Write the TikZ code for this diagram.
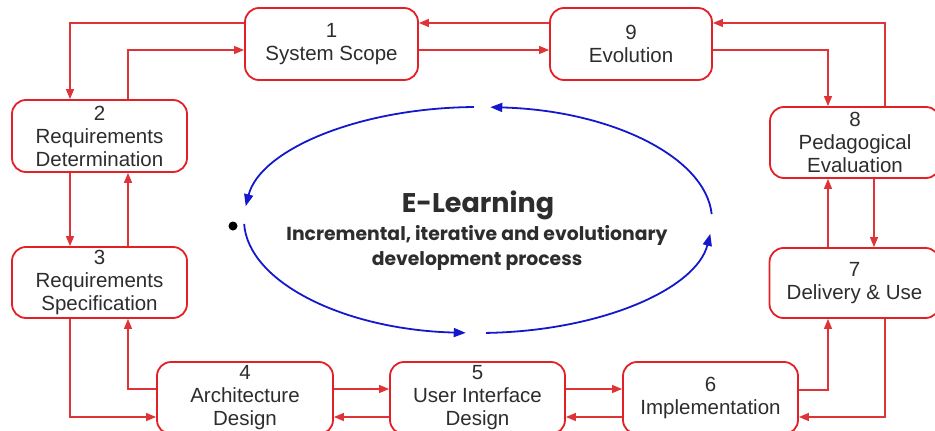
\documentclass[tikz,border=0pt]{standalone}
\usepackage{fontspec}
\setmainfont{Liberation Sans}
\newfontfamily\gothic{Poppins}
\usetikzlibrary{arrows.meta,calc,positioning}
\definecolor{boxred}{RGB}{226,32,38}
\definecolor{linkred}{RGB}{222,52,56}
\definecolor{loopblue}{RGB}{20,24,205}
\definecolor{labelgray}{RGB}{45,45,45}
\tikzset{
    phase/.style={
	anchor=center,
	rectangle,
	rounded corners=14pt,
	draw=boxred,
	line width=1.8pt,
	fill=white,
	minimum height=71pt,
	minimum width=175pt,
	align=center,
	text=labelgray,
	font=\fontsize{20.5}{23}\selectfont,
	inner sep=2pt
    },
    link/.style={
	draw=linkred,
	line width=1.3pt,
	-{Triangle[length=10pt,width=8pt]},
	color=linkred
    },
    cycle/.style={
	draw=loopblue,
	line width=1.8pt,
	-{Triangle[length=12pt,width=9pt]},
	color=loopblue
    },
}

\begin{document}
\begin{tikzpicture}[x=1pt,y=-1pt]
    \useasboundingbox (0,0) rectangle (935,431);

    \node[phase, minimum width=173pt, minimum height=72pt] (SCOPE) at (331.5,44) {1\\System Scope};
    \node[phase, minimum width=162pt, minimum height=72pt] (EVOL) at (631,44) {9\\Evolution};
    \node[phase, minimum height=72pt] (REQDET) at (99.5,136) {2\\Requirements\\Determination};
    \node[phase] (REQSPEC) at (99.5,282.5) {3\\Requirements\\Specification};
    \node[phase, minimum width=170pt] (PEDA) at (855,142.5) {8\\Pedagogical\\Evaluation};
    \node[phase, minimum width=170pt, minimum height=70pt] (DELIV) at (854.5,283) {7\\Delivery \& Use};
    \node[phase, minimum width=176pt, minimum height=72pt] (ARCH) at (245,398) {4\\Architecture\\Design};
    \node[phase, minimum height=72pt] (UI) at (477.5,398) {5\\User Interface\\Design};
    \node[phase, minimum height=72pt] (IMPL) at (710.5,398) {6\\Implementation};

    % top row
    \draw[link] ($(SCOPE.west)+(0,-21)$) -| ($(REQDET.north)+(-29.5,0)$);
    \draw[link] ($(REQDET.north)+(28.5,0)$) |- ($(SCOPE.west)+(0,6)$);
    \draw[link] ($(SCOPE.east)+(0,6)$) -- ($(EVOL.west)+(0,6)$);
    \draw[link] ($(EVOL.west)+(0,-21)$) -- ($(SCOPE.east)+(0,-21)$);
    \draw[link] ($(EVOL.east)+(0,6)$) -| ($(PEDA.north)+(-27,0)$);
    \draw[link] ($(PEDA.north)+(30,0)$) |- ($(EVOL.east)+(0,-21)$);

    % sides
    \draw[link] ($(REQDET.south)+(-29.5,0)$) -- ($(REQSPEC.north)+(-29.5,0)$);
    \draw[link] ($(REQSPEC.north)+(28.5,0)$) -- ($(REQDET.south)+(28.5,0)$);
    \draw[link] ($(PEDA.south)+(19,0)$) -- ($(DELIV.north)+(19.5,0)$);
    \draw[link] ($(DELIV.north)+(-26.5,0)$) -- ($(PEDA.south)+(-27,0)$);

    % bottom row
    \draw[link] ($(REQSPEC.south)+(-29.5,0)$) |- ($(ARCH.west)+(0,19)$);
    \draw[link] ($(ARCH.west)+(0,-9)$) -| ($(REQSPEC.south)+(28.5,0)$);
    \draw[link] ($(ARCH.east)+(0,-9)$) -- ($(UI.west)+(0,-9)$);
    \draw[link] ($(UI.west)+(0,19)$) -- ($(ARCH.east)+(0,19)$);
    \draw[link] ($(UI.east)+(0,-9)$) -- ($(IMPL.west)+(0,-9)$);
    \draw[link] ($(IMPL.west)+(0,19)$) -- ($(UI.east)+(0,19)$);
    \draw[link] ($(IMPL.east)+(0,-8)$) -| ($(DELIV.south)+(-26.5,0)$);
    \draw[link] ($(DELIV.south)+(30.5,0)$) |- ($(IMPL.east)+(0,19)$);

    % centre loop
    \coordinate (CORE) at (478,220);
    \draw[cycle] ($(CORE)+(-3:234 and 113)$) arc[start angle=-3, end angle=-87, x radius=234, y radius=113];
    \draw[cycle] ($(CORE)+(-91:234 and 113)$) arc[start angle=-91, end angle=-173, x radius=234, y radius=113];
    \draw[cycle] ($(CORE)+(-182:234 and 113)$) arc[start angle=-182, end angle=-267, x radius=234, y radius=113];
    \draw[cycle] ($(CORE)+(-272:234 and 113)$) arc[start angle=-272, end angle=-353, x radius=234, y radius=113];
    \fill (233,226) circle[radius=4.5pt];

    \node[font=\gothic\bfseries\fontsize{27}{30}\selectfont, text=labelgray] (TITLE) at (478,205) {E-Learning};
    \node[font=\gothic\bfseries\fontsize{18.8}{25}\selectfont, text=labelgray, align=center] (SUB) at (477,248)
	{Incremental, iterative and evolutionary\\development process};
\end{tikzpicture}
\end{document}
